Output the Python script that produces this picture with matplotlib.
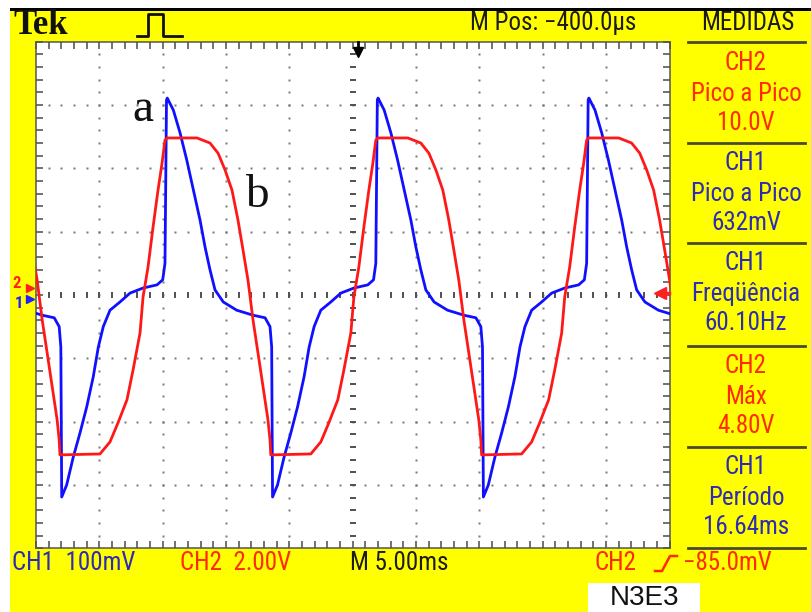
import matplotlib
matplotlib.use('Agg')
import matplotlib.pyplot as plt
from matplotlib import font_manager
from matplotlib.lines import Line2D
from matplotlib.patches import Rectangle

W, H = 811, 612

# ---------------- data ----------------
period_ms = 16.64          # CH1 Periodo
# CH2 (red), one measured cycle: time (ms from left of screen) and volts
ch2_t = [1.89, 5.05, 5.84, 6.47, 7.18, 7.66, 8.21, 8.45, 8.84, 9.24, 9.63, 9.95,
         10.18, 10.34, 12.71, 13.73, 14.37, 14.92, 15.47, 15.94, 16.34, 16.73,
         17.13, 17.52, 17.92, 18.31, 18.47]
ch2_v = [-5.05, -5.02, -4.64, -4.04, -3.31, -2.37, -1.20, -0.06, 0.88, 2.15, 3.31,
         4.17, 4.89, 4.96, 4.96, 4.80, 4.48, 3.95, 3.31, 2.37, 1.42, 0.47, -0.79,
         -1.83, -2.90, -3.95, -4.58]
# CH1 (blue), one measured cycle: time (ms) and millivolts
ch1_t = [2.03, 2.42, 2.94, 3.47, 4.00, 4.52, 4.92, 5.31, 5.84, 6.63, 7.42, 8.45,
         9.55, 10.00, 10.18, 10.30, 10.36, 10.84, 11.37, 11.90, 12.42, 12.95,
         13.34, 13.73, 14.13, 14.78, 15.84, 17.15, 18.08, 18.47, 18.60]
ch1_mv = [-319, -300, -256, -218, -177, -129, -82, -50, -24, -11, 3, 11, 16, 24,
          50, 308, 311, 292, 256, 213, 166, 118, 76, 40, 8, -11, -24, -32, -36,
          -50, -82]

top_texts = ["M Pos: \u2212400.0\u00b5s", "MEDIDAS"]
panel_texts = [
    ("CH2", "Pico a Pico", "10.0V", 'red'),
    ("CH1", "Pico a Pico", "632mV", 'blue'),
    ("CH1", "Freq\u00fc\u00eancia", "60.10Hz", 'blue'),
    ("CH2", "M\u00e1x", "4.80V", 'red'),
    ("CH1", "Per\u00edodo", "16.64ms", 'blue'),
]
bottom_texts = ["CH1  100mV", "CH2  2.00V", "M 5.00ms", "CH2", "\u221285.0mV"]
trigger_pos_ms = 25.4

# ---------------- fonts ----------------
avail = {f.name for f in font_manager.fontManager.ttflist}
narrow = [n for n in ('Liberation Sans Narrow', 'Roboto Condensed', 'Arial Narrow') if n in avail]
FAM = narrow[:1] + ['DejaVu Sans']
STRETCH = 'normal' if narrow else 'condensed'

RED_T = '#ff2a00'
BLUE_T = '#2c2cb4'
DARK = '#1c1c1c'
YEL = '#ffff00'
FS = 18

fig = plt.figure(figsize=(W / 100, H / 100), dpi=100, facecolor=YEL)


def fx(x):
    return x / W


def fy(y):
    return 1 - y / H


def rect(x0, y0, x1, y1, color, z=0):
    fig.add_artist(Rectangle((fx(x0), fy(y1)), (x1 - x0) / W, (y1 - y0) / H,
                             transform=fig.transFigure, facecolor=color,
                             edgecolor='none', zorder=z))


def line(xs, ys, color, lw, z=2, **kw):
    fig.add_artist(Line2D([fx(x) for x in xs], [fy(y) for y in ys],
                          transform=fig.transFigure, color=color, lw=lw,
                          zorder=z, **kw))


def txt(x, y, s, color, size, ha='center', **kw):
    kw.setdefault('family', FAM)
    kw.setdefault('fontstretch', STRETCH)
    fig.text(fx(x), fy(y), s, color=color, fontsize=size, ha=ha, va='center', **kw)


# white margins and black top line
rect(0, 0, W, 8, 'white')
rect(0, 0, 10, H, 'white')
rect(10, 7.5, W, 10.5, '#000000', z=1)

# ---------------- screen ----------------
ax = fig.add_axes([fx(36), fy(548.3), 633.5 / W, 506.6 / H])
ax.set_facecolor('white')
ax2 = ax.twinx()

ax.set_xlim(0, 50)
ax.set_ylim(-400, 400)
ax2.set_ylim(-8, 8)

ax.set_xticks(range(0, 51, 5))
ax.set_xticks(range(0, 51, 1), minor=True)
ax.set_yticks(range(-400, 401, 100))
ax.set_yticks(range(-400, 401, 20), minor=True)
ax.tick_params(which='both', direction='in', length=5, width=1.1, color='#4a4a4a',
               top=True, right=True, bottom=True, left=True,
               labelbottom=False, labelleft=False, labeltop=False, labelright=False)
ax2.set_yticks([])
ax2.tick_params(right=False, labelright=False)
for s in ax.spines.values():
    s.set_color('#555555')
    s.set_linewidth(1.1)
for s in ax2.spines.values():
    s.set_visible(False)

# dotted graticule
dx, dy = [], []
for k in range(1, 10):
    if k == 5:
        continue
    for j in range(1, 40):
        dx.append(5 * k)
        dy.append(-400 + 20 * j)
for m in range(-3, 4):
    if m == 0:
        continue
    for i in range(1, 50):
        dx.append(i)
        dy.append(100 * m)
ax.plot(dx, dy, ls='none', marker='s', ms=1.7, color='#7a7a7a', mec='none', zorder=1)
ax.plot([25] * 39, [-400 + 20 * j for j in range(1, 40)], ls='none', marker='_',
        ms=5, mew=1.4, color='#505050', zorder=1)
ax.plot(list(range(1, 50)), [0] * 49, ls='none', marker='|', ms=5, mew=1.4,
        color='#505050', zorder=1)

# traces (one measured cycle repeated with the measured period)
t1, v1, t2, v2 = [], [], [], []
for k in range(-1, 3):
    t1 += [t + k * period_ms for t in ch1_t]
    v1 += ch1_mv
    t2 += [t + k * period_ms for t in ch2_t]
    v2 += ch2_v
ax.plot(t1, v1, color='#1010ff', lw=2.0, zorder=3)
ax2.plot(t2, v2, color='#ff1818', lw=2.0, zorder=3)

# trigger position marker
ax.plot([trigger_pos_ms], [384], marker='v', ms=7, color='black', clip_on=False, zorder=4)
ax.plot([trigger_pos_ms, trigger_pos_ms], [384, 400], color='black', lw=2, clip_on=False, zorder=4)

# labels a / b
txt(143, 110, 'a', '#111111', 34, family=['Liberation Serif', 'DejaVu Serif'], fontstretch='normal')
txt(257, 196, 'b', '#111111', 34, family=['Liberation Serif', 'DejaVu Serif'], fontstretch='normal')

# ground / trigger level markers
txt(17, 283, '2', '#ff2020', 12, fontweight='bold')
txt(19, 303, '1', '#2020ff', 12, fontweight='bold')
fig.add_artist(Line2D([fx(30)], [fy(288)], transform=fig.transFigure, marker='>', ms=6,
                      color='#ff2020', ls='none', zorder=5))
fig.add_artist(Line2D([fx(30)], [fy(299)], transform=fig.transFigure, marker='>', ms=6,
                      color='#2020ff', ls='none', zorder=5))
fig.add_artist(Line2D([fx(660)], [fy(293)], transform=fig.transFigure, marker='<', ms=9,
                      color='#ff2020', ls='none', zorder=5))
line([660, 669], [293, 293], '#ff2020', 2.5, z=5)

# ---------------- top bar ----------------
txt(41, 26, 'Tek', '#111111', 25, family=['Liberation Serif', 'DejaVu Serif'],
    fontstretch='normal', fontweight='bold')
line([137, 148, 148, 163, 163, 182], [36, 36, 14, 14, 36, 36], '#111111', 2.0)
txt(553, 23, top_texts[0], DARK, FS)
txt(748, 23, top_texts[1], DARK, FS)

# ---------------- measurement panel ----------------
line([688, 805], [42, 42], '#4a4a30', 2.0)
box_top = [43, 143, 243, 346, 447]
for (a, b, c, col), yt in zip(panel_texts, box_top):
    color = RED_T if col == 'red' else BLUE_T
    txt(746, yt + 20, a, color, FS)
    txt(746, yt + 51, b, color, FS)
    txt(746, yt + 80, c, color, FS)
for yl in [143, 243, 346, 447, 548]:
    line([688, 805], [yl, yl], '#4a4a30', 2.0)

# ---------------- bottom bar ----------------
txt(12, 563, bottom_texts[0], BLUE_T, FS, ha='left')
txt(180, 563, bottom_texts[1], RED_T, FS, ha='left')
txt(350, 563, bottom_texts[2], DARK, FS, ha='left')
txt(595, 563, bottom_texts[3], RED_T, FS, ha='left')
line([655, 662, 670, 677], [571, 571, 556, 556], RED_T, 1.8)
txt(683, 563, bottom_texts[4], RED_T, FS, ha='left')

rect(588, 583, 700, 612, 'white', z=1)
txt(644, 598, 'N3E3', '#111111', 20, family=['Liberation Sans', 'DejaVu Sans'],
    fontstretch='normal')

fig.savefig('out.png', dpi=100, facecolor=YEL)
